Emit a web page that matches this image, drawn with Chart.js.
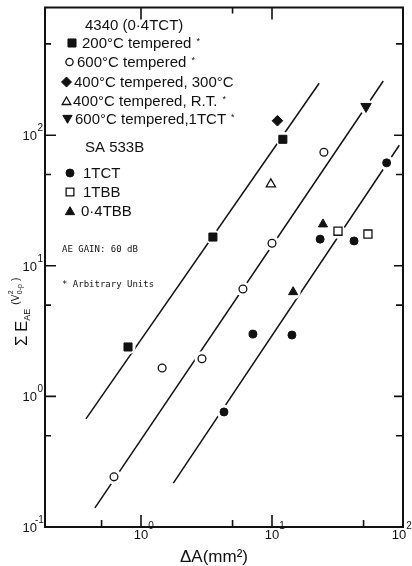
<!DOCTYPE html>
<html><head><meta charset="utf-8">
<script src="https://cdn.jsdelivr.net/npm/chart.js@4/dist/chart.umd.min.js"></script>
<style>html,body{margin:0;padding:0;background:#fff;}canvas{display:block;}</style>
</head><body>
<canvas id="c" width="412" height="566"></canvas>
<script>
// ---------- data ----------
const t200X = [0.796, 3.54, 12.1];
const t200Y = [2.39, 16.6, 93];
const t600X = [0.622, 1.45, 2.92, 6.0, 10.0, 24.9];
const t600Y = [0.242, 1.65, 1.94, 6.64, 14.9, 74];
const t400hX = [11.0];
const t400hY = [129];
const t400rX = [9.8];
const t400rY = [42.2];
const t600cX = [52.2];
const t600cY = [166];
const tctX = [4.3, 7.16, 14.2, 23.3, 42.3, 75];
const tctY = [0.76, 3.0, 2.95, 16.0, 15.5, 61.4];
const tbbX = [31.9, 54];
const tbbY = [18.4, 17.5];
const bb04X = [14.5, 24.5];
const bb04Y = [6.3, 20.8];
// fitted lines (end points)
const fit1X = [0.380, 22.9];
const fit1Y = [0.673, 250];
const fit2X = [0.445, 70.7];
const fit2Y = [0.140, 260];
const fit3X = [1.765, 93.7];
const fit3Y = [0.217, 83.8];
// axes
const xMin = 0.185, xMax = 100, yMin = 0.1, yMax = 950;
const xLabelVals = [1, 10, 100];
const xLabelExp = ['0', '1', '2'];
const yLabelVals = [0.1, 1, 10, 100];
const yLabelExp = ['-1', '0', '1', '2'];
const xMajorBottom = [1, 10];
const xMinorBottom = [0.5, 5, 50];
const xMajorTop = [1, 10];
const xMinorTop = [5];
const yMajor = [1, 10, 100];
const yMinor = [0.5, 5, 50, 500];

const INK = '#111';
const SANS = '"Liberation Sans", Arial, Helvetica, sans-serif';
const MONO = '"DejaVu Sans Mono", "Liberation Mono", monospace';

const pts = (xs, ys) => xs.map((x, i) => ({x: x, y: ys[i]}));

function markerSet(xs, ys, style, r, filled, rot) {
  return {
    data: pts(xs, ys), pointStyle: style, pointRadius: r, pointRotation: rot || 0,
    pointBackgroundColor: filled ? INK : '#fff', pointBorderColor: INK,
    pointBorderWidth: filled ? 1 : 1.3, showLine: false, order: 0
  };
}
function lineSet(xs, ys) {
  return { data: pts(xs, ys), showLine: true, borderColor: INK, borderWidth: 1.5,
    pointRadius: 0, fill: false, order: 2 };
}
const allX = [].concat(t200X, t600X, t400hX, t400rX, t600cX, tctX, tbbX, bb04X);
const allY = [].concat(t200Y, t600Y, t400hY, t400rY, t600cY, tctY, tbbY, bb04Y);

const datasets = [
  lineSet(fit1X, fit1Y), lineSet(fit2X, fit2Y), lineSet(fit3X, fit3Y),
  { data: pts(allX, allY), pointRadius: 7.5, pointBackgroundColor: '#fff',
    pointBorderWidth: 0, pointBorderColor: '#fff', showLine: false, order: 1 },
  markerSet(t200X, t200Y, 'rect', 5.7, true),
  markerSet(t600X, t600Y, 'circle', 3.9, false),
  markerSet(t400hX, t400hY, 'rectRot', 5.3, true),
  markerSet(t400rX, t400rY, 'triangle', 5.3, false),
  markerSet(t600cX, t600cY, 'triangle', 6, true, 180),
  markerSet(tctX, tctY, 'circle', 4, true),
  markerSet(tbbX, tbbY, 'rect', 5.7, false),
  markerSet(bb04X, bb04Y, 'triangle', 5.3, true)
];

function shape(ctx, kind, x, y, r, filled) {
  ctx.save();
  ctx.beginPath();
  if (kind === 'rect') { const h = r * Math.SQRT1_2; ctx.rect(x - h, y - h, 2 * h, 2 * h); }
  else if (kind === 'circle') { ctx.arc(x, y, r, 0, Math.PI * 2); }
  else if (kind === 'rectRot') { ctx.moveTo(x, y - r); ctx.lineTo(x + r, y); ctx.lineTo(x, y + r); ctx.lineTo(x - r, y); ctx.closePath(); }
  else if (kind === 'triangle') { ctx.moveTo(x, y - r); ctx.lineTo(x + r * 0.866, y + r / 2); ctx.lineTo(x - r * 0.866, y + r / 2); ctx.closePath(); }
  else if (kind === 'triangleDown') { ctx.moveTo(x, y + r); ctx.lineTo(x + r * 0.866, y - r / 2); ctx.lineTo(x - r * 0.866, y - r / 2); ctx.closePath(); }
  ctx.fillStyle = filled ? INK : '#fff';
  ctx.fill();
  ctx.strokeStyle = INK; ctx.lineWidth = filled ? 1 : 1.3;
  ctx.stroke();
  ctx.restore();
}

const decor = {
  id: 'decor',
  afterDraw(chart) {
    const ctx = chart.ctx, a = chart.chartArea, xs = chart.scales.x, ys = chart.scales.y;
    ctx.save();
    ctx.strokeStyle = INK; ctx.fillStyle = INK;
    // frame
    ctx.lineWidth = 2;
    ctx.strokeRect(a.left, a.top, a.right - a.left, a.bottom - a.top);
    // ticks (inward)
    ctx.lineWidth = 1.6;
    ctx.beginPath();
    xMajorBottom.forEach(v => { const p = xs.getPixelForValue(v); ctx.moveTo(p, a.bottom); ctx.lineTo(p, a.bottom - 12); });
    xMinorBottom.forEach(v => { const p = xs.getPixelForValue(v); ctx.moveTo(p, a.bottom); ctx.lineTo(p, a.bottom - 7); });
    xMajorTop.forEach(v => { const p = xs.getPixelForValue(v); ctx.moveTo(p, a.top); ctx.lineTo(p, a.top + 12); });
    xMinorTop.forEach(v => { const p = xs.getPixelForValue(v); ctx.moveTo(p, a.top); ctx.lineTo(p, a.top + 6); });
    yMajor.forEach(v => { const p = ys.getPixelForValue(v);
      ctx.moveTo(a.left, p); ctx.lineTo(a.left + 11, p); ctx.moveTo(a.right, p); ctx.lineTo(a.right - 9, p); });
    yMinor.forEach(v => { const p = ys.getPixelForValue(v);
      ctx.moveTo(a.left, p); ctx.lineTo(a.left + 6, p); ctx.moveTo(a.right, p); ctx.lineTo(a.right - 7, p); });
    ctx.stroke();

    // tick labels
    ctx.textBaseline = 'alphabetic';
    xLabelVals.forEach((v, i) => {
      let p = xs.getPixelForValue(v);
      if (i === xLabelVals.length - 1) p -= 4;
      ctx.font = '13px ' + SANS; ctx.textAlign = 'center';
      ctx.fillText('10', p, 539);
      const w = ctx.measureText('10').width;
      ctx.font = '10px ' + SANS; ctx.textAlign = 'left';
      ctx.fillText(xLabelExp[i], p + w / 2, 529);
    });
    yLabelVals.forEach((v, i) => {
      const p = ys.getPixelForValue(v);
      ctx.font = '13px ' + SANS; ctx.textAlign = 'right';
      ctx.fillText('10', 37, p + 5);
      ctx.font = '10px ' + SANS; ctx.textAlign = 'left';
      const e = yLabelExp[i];
      ctx.fillText(e, e.length > 1 ? 35 : 37.5, p - 4);
    });

    // x title
    ctx.font = '17px ' + SANS; ctx.textAlign = 'center';
    ctx.fillText('ΔA(mm²)', 214, 562);

    // y title (rotated)
    ctx.save();
    ctx.translate(27, 346); ctx.rotate(-Math.PI / 2);
    ctx.textAlign = 'left';
    ctx.font = '17px ' + SANS;
    ctx.fillText('Σ', 0, 0);
    ctx.fillText('E', 14, 0);
    const wE = ctx.measureText('E').width;
    let u = 14 + wE;
    ctx.font = '9px ' + SANS;
    ctx.fillText('AE', u, 3);
    u += ctx.measureText('AE').width + 4;
    ctx.font = '10px ' + SANS;
    ctx.fillText('(V', u, -8);
    u += ctx.measureText('(V').width + 0.5;
    ctx.font = '7px ' + SANS;
    ctx.fillText('2', u, -14);
    ctx.fillText('0-p', u, -5);
    u += ctx.measureText('0-p').width + 3;
    ctx.font = '10px ' + SANS;
    ctx.fillText(')', u, -8);
    ctx.restore();

    // legend block
    ctx.textAlign = 'left';
    const T = (txt, x, yc, star) => {
      ctx.fillStyle = INK;
      ctx.font = '15px ' + SANS;
      ctx.fillText(txt, x, yc + 5.4);
      if (star) {
        const w = ctx.measureText(txt).width;
        ctx.font = '9px ' + SANS;
        ctx.fillText('*', x + w + 5, yc + 1);
      }
    };
    T('4340 (0·4TCT)', 85, 25);
    shape(ctx, 'rect', 72, 43, 5.7, true);   T('200°C tempered', 82, 43, true);
    shape(ctx, 'circle', 69.5, 62, 3.6, false); T('600°C tempered', 77, 62, true);
    shape(ctx, 'rectRot', 66.5, 82, 5, true);  T('400°C tempered, 300°C', 74, 82, false);
    shape(ctx, 'triangle', 66.5, 102, 5, false); T('400°C tempered, R.T.', 73, 101, true);
    shape(ctx, 'triangleDown', 67.5, 118, 5.3, true); T('600°C tempered,1TCT', 75, 119, true);
    T('SA 533B', 85, 147);
    shape(ctx, 'circle', 70, 173, 4, true);   T('1TCT', 83, 173);
    shape(ctx, 'rect', 70, 192, 5.5, false);  T('1TBB', 83, 192);
    shape(ctx, 'triangle', 70, 212, 5.3, true); T('0·4TBB', 81, 211);
    ctx.fillStyle = INK;
    ctx.font = '9px ' + MONO;
    ctx.fillText('AE GAIN: 60 dB', 62, 252);
    ctx.fillText('* Arbitrary Units', 62, 287);
    ctx.restore();
  }
};

new Chart(document.getElementById('c').getContext('2d'), {
  type: 'scatter',
  data: { datasets: datasets },
  options: {
    responsive: false, animation: false, devicePixelRatio: 1,
    layout: { padding: { left: 45, right: 9, top: 7, bottom: 39 } },
    plugins: { legend: { display: false }, tooltip: { enabled: false } },
    events: [],
    scales: {
      x: { type: 'logarithmic', min: xMin, max: xMax, display: false },
      y: { type: 'logarithmic', min: yMin, max: yMax, display: false }
    }
  },
  plugins: [decor]
});
</script>
</body></html>
